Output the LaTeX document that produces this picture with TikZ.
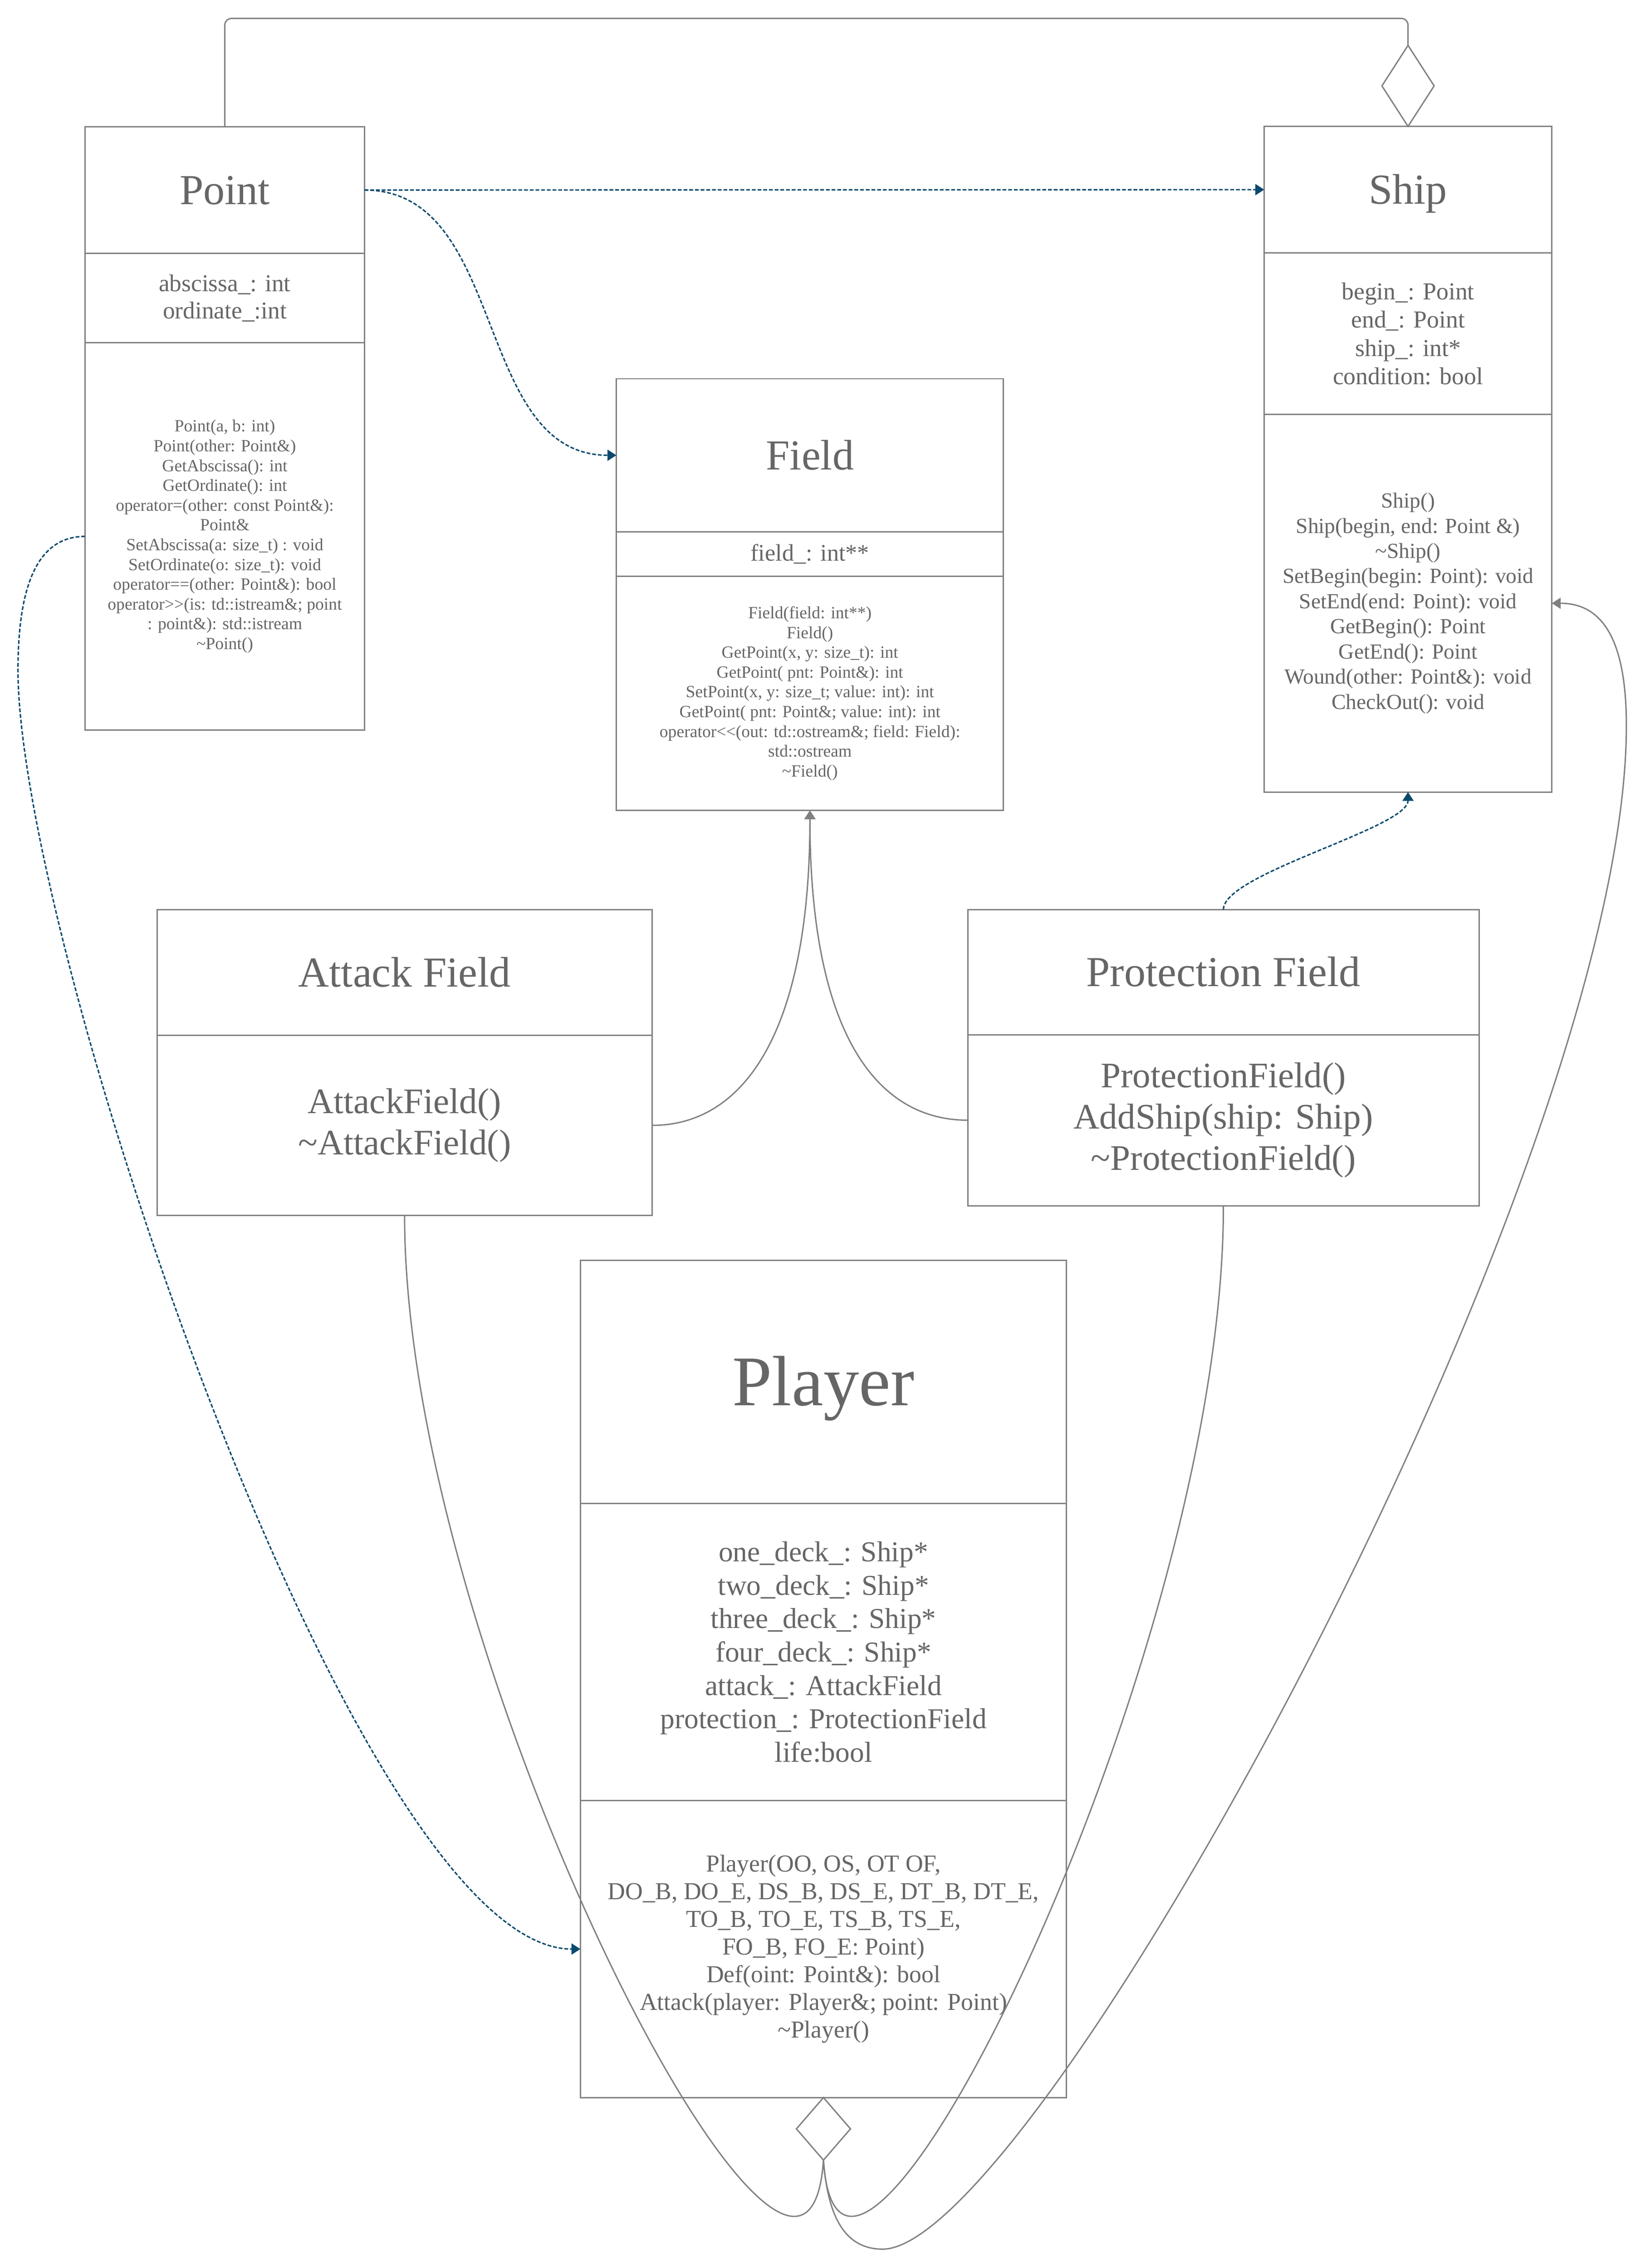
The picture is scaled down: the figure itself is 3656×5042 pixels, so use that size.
\documentclass[tikz,border=0pt]{standalone}
\usepackage{fontspec}
\setmainfont{Liberation Serif}
\usetikzlibrary{positioning,shapes.geometric,arrows.meta}
\definecolor{boxgray}{HTML}{808080}
\definecolor{txtgray}{HTML}{666666}
\definecolor{depblue}{HTML}{0B4A6E}
\begin{document}
\begin{tikzpicture}[x=0.01cm, y=-0.01cm,
        >={Triangle[length=5.6pt,width=7pt]},
        cell/.style={draw=boxgray, line width=0.85pt, text=txtgray, outer sep=0pt, inner sep=0pt, align=center},
        ttl/.style={cell, font=\fontsize{27}{31}\selectfont, text height=0.64cm, text depth=0pt},
        small/.style={cell, font=\fontsize{10.8}{12.5}\selectfont},
        link/.style={boxgray, line width=0.85pt},
        dep/.style={depblue, line width=0.9pt, dash pattern=on 2.4pt off 1.2pt},
        agg/.style={diamond, draw=boxgray, line width=0.85pt, fill=white, inner sep=0pt, outer sep=0pt}]
        \useasboundingbox (0,0) rectangle (3656,5042);
        % Point
        \node[ttl, minimum width=6.21cm, minimum height=2.81cm, anchor=north west] (ptTitle) at (189,282) {Point};
        \node[cell, font=\fontsize{15.3}{17.1}\selectfont, minimum width=6.21cm, minimum height=1.99cm, below=0pt of ptTitle] (ptAttr) {abscissa\_: int\\ordinate\_:int};
        \node[small, minimum width=6.21cm, minimum height=8.6cm, below=0pt of ptAttr] (ptMeth) {Point(a, b: int)\\Point(other: Point\&)\\GetAbscissa(): int\\GetOrdinate(): int\\operator=(other: const Point\&):\\Point\&\\SetAbscissa(a: size\_t) : void\\SetOrdinate(o: size\_t): void\\operator==(other: Point\&): bool\\operator>{}>(is: td::istream\&; point\\: point\&): std::istream\\\textasciitilde Point()};
        % Ship
        \node[ttl, minimum width=6.39cm, minimum height=2.81cm, anchor=north west] (shTitle) at (2810,281) {Ship};
        \node[cell, font=\fontsize{15.4}{17.9}\selectfont, minimum width=6.39cm, minimum height=3.59cm, below=0pt of shTitle] (shAttr) {begin\_: Point\\end\_: Point\\ship\_: int*\\condition: bool};
        \node[cell, font=\fontsize{13.6}{15.9}\selectfont, minimum width=6.39cm, minimum height=8.39cm, below=0pt of shAttr] (shMeth) {Ship()\\Ship(begin, end: Point \&)\\\textasciitilde Ship()\\SetBegin(begin: Point): void\\SetEnd(end: Point): void\\GetBegin(): Point\\GetEnd(): Point\\Wound(other: Point\&): void\\CheckOut(): void};
        \node[agg, minimum width=1.16cm, minimum height=1.8cm, above=0pt of shTitle] (shDia) {};
        % Field
        \node[ttl, minimum width=8.6cm, minimum height=3.4cm, anchor=north west] (fdTitle) at (1370,842) {Field};
        \node[cell, font=\fontsize{15}{17}\selectfont, minimum width=8.6cm, minimum height=0.99cm, below=0pt of fdTitle] (fdAttr) {field\_: int**};
        \node[small, minimum width=8.6cm, minimum height=5.2cm, below=0pt of fdAttr] (fdMeth) {Field(field: int**)\\Field()\\GetPoint(x, y: size\_t): int\\GetPoint( pnt: Point\&): int\\SetPoint(x, y: size\_t; value: int): int\\GetPoint( pnt: Point\&; value: int): int\\operator<{}<(out: td::ostream\&; field: Field):\\std::ostream\\\textasciitilde Field()};
        % Attack Field
        \node[ttl, minimum width=11cm, minimum height=2.79cm, anchor=north west] (atTitle) at (349,2022) {Attack Field};
        \node[cell, font=\fontsize{22.7}{26.2}\selectfont, minimum width=11cm, minimum height=4.01cm, below=0pt of atTitle] (atMeth) {AttackField()\\\textasciitilde AttackField()};
        % Protection Field
        \node[ttl, minimum width=11.36cm, minimum height=2.78cm, anchor=north west] (prTitle) at (2151,2022) {Protection Field};
        \node[cell, font=\fontsize{22.7}{26.2}\selectfont, minimum width=11.36cm, minimum height=3.8cm, below=0pt of prTitle] (prMeth) {ProtectionField()\\AddShip(ship: Ship)\\\textasciitilde ProtectionField()};
        % Player
        \node[cell, font=\fontsize{45}{52}\selectfont, text height=1.05cm, text depth=0pt, minimum width=10.8cm, minimum height=5.4cm, anchor=north west] (plTitle) at (1290,2802) {Player};
        \node[cell, font=\fontsize{18.2}{21.1}\selectfont, minimum width=10.8cm, minimum height=6.6cm, below=0pt of plTitle] (plAttr) {one\_deck\_: Ship*\\two\_deck\_: Ship*\\three\_deck\_: Ship*\\four\_deck\_: Ship*\\attack\_: AttackField\\protection\_: ProtectionField\\life:bool};
        \node[cell, font=\fontsize{15.4}{17.5}\selectfont, minimum width=10.8cm, minimum height=6.6cm, below=0pt of plAttr] (plMeth) {Player(OO, OS, OT OF,\\DO\_B, DO\_E, DS\_B, DS\_E, DT\_B, DT\_E,\\TO\_B, TO\_E, TS\_B, TS\_E,\\FO\_B, FO\_E: Point)\\Def(oint: Point\&): bool\\Attack(player: Player\&; point: Point)\\\textasciitilde Player()};
        \node[agg, minimum width=1.2cm, minimum height=1.39cm, below=0pt of plMeth] (plDia) {};
        % bends
        \coordinate (bendL) at (40,1490);
        \coordinate (bendB) at (1962,5000);
        \coordinate (bendR) at (3615,1613);
        % connectors
        \draw[link, rounded corners=0.15cm] (ptTitle.north) -- ++(0,-241) -| (shDia.north);
        \draw[dep, ->] (ptTitle.east) -- (shTitle.west);
        \draw[dep, ->] (ptTitle.east) .. controls +(319,0) and +(-319,0) .. (fdTitle.west);
        \draw[dep, ->] (ptMeth.west) .. controls +(-105,0) and +(0,-190) .. (bendL) .. controls +(0,600) and +(-500,0) .. (plMeth.west);
        \draw[dep, ->] (prTitle.north) .. controls +(0,-80) and +(0,80) .. (shMeth.south);
        \draw[link, ->] (atMeth.east) .. controls +(200,0) and +(0,500) .. (fdMeth.south);
        \draw[link, ->] (prMeth.west) .. controls +(-200,0) and +(0,500) .. (fdMeth.south);
        \draw[link] (atMeth.south) .. controls +(0,1000) and +(-40,600) .. (plDia.south);
        \draw[link] (prMeth.south) .. controls +(0,1020) and +(40,600) .. (plDia.south);
        \draw[link, ->] (plDia.south) .. controls +(10,130) and +(-82,0) .. (bendB) .. controls +(338,0) and +(0,987) .. (bendR) .. controls +(0,-193) and +(111,0) .. (shMeth.east);
\end{tikzpicture}
\end{document}
